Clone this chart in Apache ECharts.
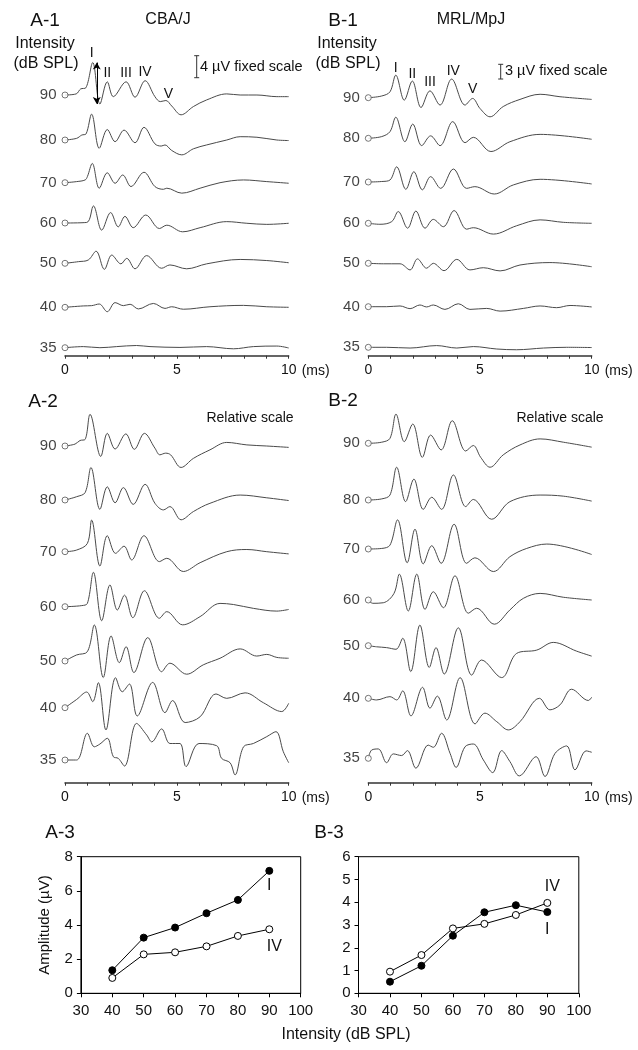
<!DOCTYPE html>
<html><head><meta charset="utf-8">
<script src="https://cdn.jsdelivr.net/npm/echarts@6/dist/echarts.min.js"></script>
<style>html,body{margin:0;padding:0;background:#fff}#c{width:638px;height:1050px}</style>
</head><body><div id="c"></div>
<script>
// ---------------- DATA ----------------
const INTENSITIES = ['90','80','70','60','50','40','35'];
const X_TICKS = [0,5,10];

// Panel A-1 (CBA/J, fixed scale, µV) : [time ms, amplitude µV]
const A1_90 = [[0,0],[0.5,0.2],[0.7,1.1],[0.93,1.3],[1.24,5.9],[1.56,-1.64],[1.89,2.4],[2.16,-0.3],[2.73,2.4],[3.13,-0.4],[3.58,2.6],[4.02,-0.3],[4.26,-1.2],[4.51,-1.0],[4.77,-2.0],[5.19,-3.6],[5.74,-2.1],[6.33,-0.9],[7.23,0.2],[7.83,0],[8.58,0],[9.47,-0.3],[10,-0.3]];
const A1_80 = [[0,0],[0.52,0.3],[0.75,0.9],[0.94,1.1],[1.19,4.7],[1.53,-1.5],[1.89,1.9],[2.24,-0.3],[2.64,1.8],[3.13,-0.5],[3.53,2.3],[4.02,-0.7],[4.3,-1.1],[4.47,-0.9],[4.77,-1.9],[5.22,-2.7],[5.74,-1.6],[6.33,-0.9],[7.23,0],[7.83,0.6],[8.58,0.5],[9.47,0],[10,-0.1]];
const A1_70 = [[0,0],[0.52,0.2],[0.9,0.5],[1.0,1.1],[1.22,3.5],[1.53,-1.0],[1.89,1.8],[2.24,-0.1],[2.58,1.4],[2.95,-0.7],[3.53,1.9],[4.02,-0.7],[4.40,-1.2],[4.55,-1.0],[5.22,-1.9],[6.04,-1.0],[6.93,0],[7.98,0.5],[9.02,0.2],[10,-0.1]];
const A1_60 = [[0,0],[0.97,0.1],[1.27,3.1],[1.64,-1.3],[2.04,1.9],[2.38,-0.7],[2.68,1.2],[3.05,-0.85],[3.61,1.45],[4.22,-1.0],[4.55,-0.4],[5.26,-1.6],[6.04,-0.85],[7.23,0.25],[8.13,-0.05],[9.02,-0.25],[10,-0.05]];
const A1_50 = [[0,0],[0.6,0.3],[1.04,0.6],[1.39,2.2],[1.76,-1.1],[2.09,1.5],[2.50,-0.1],[2.76,0.9],[3.13,-1.0],[3.65,1.4],[4.32,-0.9],[4.69,-0.3],[5.44,-1.0],[6.33,-0.1],[7.83,0.7],[9.02,0.5],[10,0.1]];
const A1_40 = [[0,0],[0.82,0.25],[1.19,0.3],[1.53,0.6],[1.89,-0.8],[2.24,0.85],[2.61,0.3],[2.91,0.55],[3.28,-0.3],[3.95,0.7],[4.47,-0.2],[4.77,0.1],[5.29,-0.35],[6.48,0.1],[7.98,0.35],[9.02,0.1],[10,0]];
const A1_35 = [[0,0],[0.82,0.2],[1.56,0],[2.31,0.2],[3.2,0.4],[3.8,0.2],[5.14,0.05],[6.33,0.2],[7.53,-0.2],[8.42,0.2],[9.47,0.3],[10,-0.05]];

// Panel B-1 (MRL/MpJ, fixed scale, µV)
const B1_90 = [[0,0],[0.6,0.35],[0.97,1.2],[1.23,4.6],[1.61,-0.5],[1.97,3.4],[2.36,-2.0],[2.76,1.4],[3.21,-1.5],[3.73,3.8],[4.33,-1.5],[4.67,-0.15],[5.0,-2.2],[5.45,-3.9],[6.04,-1.8],[6.79,-0.35],[7.69,0.7],[8.58,0.2],[10,-0.35]];
const B1_80 = [[0,0],[0.6,0.35],[0.97,1.35],[1.23,4.3],[1.64,-0.7],[1.99,2.9],[2.39,-1.5],[2.79,0.5],[3.21,-1.5],[3.78,3.4],[4.33,-0.9],[4.7,0.2],[5.49,-2.7],[6.34,-0.7],[7.69,0.8],[10,-0.2]];
const B1_70 = [[0,0],[0.6,0.1],[0.97,0.4],[1.27,3.1],[1.68,-1.5],[2.04,2.1],[2.42,-1.6],[2.79,1.1],[3.24,-1.3],[3.81,2.65],[4.4,-1.3],[4.77,-0.95],[5.64,-2.45],[6.49,-0.6],[7.69,0.55],[10,-0.4]];
const B1_60 = [[0,0],[0.52,-0.2],[1.05,0.35],[1.34,2.4],[1.76,-1.0],[2.13,2.5],[2.54,-1.0],[2.91,0.8],[3.36,-0.7],[3.84,2.6],[4.4,-1.2],[4.7,-0.9],[5.6,-2.2],[6.64,-0.5],[7.69,0.7],[8.73,0.2],[10,0]];
const B1_50 = [[0,0],[0.67,-0.1],[1.42,-0.1],[1.87,-1.35],[2.2,0.9],[2.61,-1.0],[2.91,0],[3.39,-1.5],[3.96,0.8],[4.55,-1.35],[5.15,-0.9],[5.9,-1.55],[6.79,-0.35],[8.13,0.15],[10,-0.7]];
const B1_40 = [[0,0],[0.82,0],[1.42,0.15],[1.87,-0.4],[2.31,0.35],[2.61,-0.05],[2.91,0.35],[3.43,-0.55],[4.03,0.6],[4.55,-0.55],[5.3,-0.35],[5.9,-0.9],[6.94,-0.35],[7.69,0.15],[8.43,-0.2],[9.03,0.25],[10,-0.05]];
const B1_35 = [[0,0],[0.82,0],[1.87,-0.15],[3.06,0.35],[3.96,-0.15],[4.7,0.15],[5.75,-0.35],[6.64,-0.5],[7.84,-0.15],[8.88,0],[10,-0.05]];

// Panel A-2 (CBA/J, relative scale, arbitrary units)
const A2_90 = [[0,0],[0.45,0.35],[0.67,1.0],[0.9,1.2],[1.12,5.75],[1.6,-1.9],[1.89,2.3],[2.24,-0.55],[2.72,2.2],[3.1,-0.6],[3.55,2.3],[4.02,-0.4],[4.24,-1.6],[4.5,-1.3],[4.72,-1.6],[5.19,-3.9],[5.74,-2.25],[6.48,-0.7],[7.23,0.65],[8.13,0.2],[9.02,0],[10,-0.25]];
const A2_80 = [[0,0],[0.52,0.6],[0.9,1.35],[1.16,5.9],[1.56,-1.7],[1.89,2.4],[2.24,-0.5],[2.61,2.25],[3.05,-0.8],[3.58,2.85],[4.02,-0.6],[4.40,-1.8],[4.69,-1.2],[5.19,-3.6],[5.74,-2.1],[6.48,-0.6],[7.83,0.9],[9.02,0.4],[10,-0.1]];
const A2_70 = [[0,0],[0.52,0.3],[1.0,1.5],[1.19,5.75],[1.56,-2.6],[1.89,2.9],[2.26,-0.3],[2.64,1.0],[2.98,-1.5],[3.53,2.9],[4.22,-1.8],[4.55,-1.2],[5.29,-3.6],[6.04,-2.0],[7.23,0],[8.13,0.4],[9.02,0],[10,-0.4]];
const A2_60 = [[0,0],[0.75,0.2],[1.0,0.6],[1.27,6.25],[1.64,-2.55],[2.01,3.95],[2.34,-0.6],[2.66,2.1],[3.03,-2.0],[3.55,2.9],[4.22,-2.1],[4.55,-0.9],[5.26,-3.3],[6.04,-1.8],[6.93,0.6],[7.53,0.4],[8.42,-0.3],[9.47,-0.8],[10,-0.5]];
const A2_50 = [[0,0],[0.52,1.1],[1.0,1.7],[1.31,6.55],[1.71,-3.0],[2.06,4.55],[2.43,-0.3],[2.73,2.6],[3.08,-2.1],[3.7,4.25],[4.32,-1.95],[4.69,-0.4],[5.44,-2.4],[6.18,-0.7],[6.93,0.5],[7.83,2.2],[8.57,0.9],[9.02,1.2],[9.47,0.65],[10,0.5]];
const A2_40 = [[0,0],[0.52,1.5],[0.97,2.85],[1.24,1.1],[1.49,4.55],[1.83,-4.05],[2.26,5.45],[2.56,2.9],[2.88,4.3],[3.23,-1.5],[3.92,4.6],[4.47,-0.9],[4.81,1.3],[5.37,-2.7],[6.04,-1.65],[6.75,2.5],[7.23,1.7],[8.05,2.7],[8.87,0.9],[9.69,-0.7],[10,0.8]];
const A2_35 = [[0,0],[0.52,0],[1.0,4.85],[1.31,2.4],[1.56,2.9],[1.89,3.95],[2.16,0.6],[2.38,0.3],[2.66,-1.1],[3.2,6.65],[3.65,4.55],[3.88,3.3],[4.32,5.65],[4.69,3.0],[5.14,3.0],[5.41,-1.2],[5.99,3.0],[6.78,2.6],[7.0,0.3],[7.38,-0.5],[7.6,-2.7],[7.98,2.4],[8.42,3.0],[9.02,4.25],[9.43,5.15],[9.76,1.5],[10,-0.5]];

// Panel B-2 (MRL/MpJ, relative scale, arbitrary units)
const B2_90 = [[0,0],[0.6,0.2],[0.97,0.9],[1.24,5.3],[1.61,0.3],[1.99,3.5],[2.42,-2.55],[2.79,1.5],[3.26,-1.2],[3.76,4.1],[4.36,-1.4],[4.7,-0.4],[5.03,-2.55],[5.45,-4.35],[6.04,-2.1],[6.79,-0.3],[7.69,0.8],[8.73,0.2],[10,-0.7]];
const B2_80 = [[0,0],[0.6,0.2],[0.97,0.9],[1.27,5.95],[1.67,-0.3],[2.04,3.8],[2.46,-1.7],[2.84,0.5],[3.28,-1.7],[3.81,4.55],[4.36,-1.2],[4.7,0.1],[5.52,-3.5],[6.34,-0.3],[7.69,0.9],[8.73,0.7],[10,-0.2]];
const B2_70 = [[0,0],[0.6,0.1],[0.97,0.7],[1.31,5.3],[1.74,-2.5],[2.09,3.6],[2.46,-2.7],[2.84,0.6],[3.26,-2.6],[3.84,4.5],[4.4,-2.6],[4.77,-1.6],[5.6,-4.1],[6.34,-1.4],[7.09,0.1],[7.99,0.9],[10,-1.0]];
const B2_60 = [[0,0],[0.2,-0.6],[0.67,-0.5],[1.15,1.2],[1.39,4.7],[1.79,-2.0],[2.17,4.7],[2.54,-1.7],[2.91,1.5],[3.36,-1.4],[3.88,4.4],[4.48,-2.4],[4.85,-1.5],[5.64,-4.4],[6.34,-1.8],[6.94,0.3],[7.69,1.2],[8.73,0.5],[10,0]];
const B2_50 = [[0,0],[0.37,-0.2],[0.82,-0.35],[1.24,-0.65],[1.54,1.35],[1.9,-4.7],[2.31,3.75],[2.73,-3.95],[3.03,-0.35],[3.4,-5.15],[4.03,3.25],[4.63,-5.35],[5.07,-2.6],[5.97,-5.8],[6.64,-1.4],[7.54,-0.8],[8.28,0.6],[9.33,-1.0],[10,-1.9]];
const B2_40 = [[0,0],[0.37,-0.3],[0.97,0.3],[1.27,-0.3],[1.54,1.35],[1.91,-3.2],[2.43,2.0],[2.76,-1.8],[3.09,0.4],[3.51,-3.95],[4.11,3.75],[4.78,-4.65],[5.22,-2.7],[5.75,-4.25],[6.27,-5.75],[6.79,-4.25],[7.66,0],[8.13,-2.1],[8.58,-1.2],[9.1,1.65],[9.85,-0.4],[10,0.2]];
const B2_35 = [[0,0],[0.15,1.5],[0.45,1.7],[0.82,-0.8],[1.12,0.8],[1.49,0.5],[1.75,1.4],[2.13,-1.8],[2.68,2.4],[2.91,2.0],[3.28,4.55],[3.66,0.9],[3.93,-1.65],[4.33,2.1],[4.7,2.6],[5.15,-0.3],[5.57,-2.6],[5.97,1.4],[6.34,-0.6],[6.76,-3.2],[7.51,0.3],[7.91,-3.3],[8.36,0.9],[8.88,2.25],[9.25,-2.1],[9.75,1.35],[10,1.1]];

// Panels A-3 / B-3 : amplitude (µV) vs intensity (dB SPL)
const LEVELS = [40,50,60,70,80,90];
const A3_I  = [1.35,3.26,3.85,4.69,5.47,7.17];
const A3_IV = [0.9,2.28,2.4,2.75,3.36,3.75];
const B3_I  = [0.51,1.21,2.53,3.56,3.87,3.57];
const B3_IV = [0.95,1.68,2.85,3.05,3.44,3.97];

// ---------------- LAYOUT ----------------
const FONT = '"Liberation Sans", Arial, Helvetica, sans-serif';
const TXT = '#111';
const TRACE = '#4a4a4a';
const W = 638, H = 1050;

const panels = [
  {left:65,   right:288.7, axisY:355.7, top:30,  ppu:5.5, bases:[95,140,182.7,223,263.3,307.3,347.7], traces:[A1_90,A1_80,A1_70,A1_60,A1_50,A1_40,A1_35]},
  {left:368.3,right:591.7, axisY:355.7, top:30,  ppu:4.9, bases:[97.7,138.3,182,223.3,263.3,306.7,347.3], traces:[B1_90,B1_80,B1_70,B1_60,B1_50,B1_40,B1_35]},
  {left:65,   right:288.7, axisY:782.7, top:405, ppu:5.5, bases:[446,500,551.7,606.7,661,707.7,760], traces:[A2_90,A2_80,A2_70,A2_60,A2_50,A2_40,A2_35]},
  {left:368.3,right:591.7, axisY:782.7, top:405, ppu:5.5, bases:[443.3,500,549,600,645.7,698.3,758.3], traces:[B2_90,B2_80,B2_70,B2_60,B2_50,B2_40,B2_35]}
];

const grids = [], xAxes = [], yAxes = [], series = [];

panels.forEach((p, pi) => {
  const h = p.axisY - p.top;
  grids.push({left:p.left, top:p.top, width:p.right - p.left, height:h});
  xAxes.push({
    type:'value', gridIndex:pi, min:0, max:10, interval:1,
    axisLine:{show:true, lineStyle:{color:'#333', width:1.5}},
    axisTick:{show:true, length:3, lineStyle:{color:'#333', width:1}},
    splitLine:{show:false},
    axisLabel:{margin:7, fontFamily:FONT, fontSize:14, color:TXT,
      formatter:v => X_TICKS.indexOf(v) >= 0 ? String(v) : ''},
    name:'(ms)', nameLocation:'end', nameGap:13,
    nameTextStyle:{fontFamily:FONT, fontSize:14, color:TXT, verticalAlign:'top', padding:[8,0,0,0]}
  });
  yAxes.push({type:'value', gridIndex:pi, min:0, max:h / p.ppu, show:false});
  const offs = p.bases.map(b => (p.axisY - b) / p.ppu);
  p.traces.forEach((tr, k) => {
    const s = {
      type:'line', xAxisIndex:pi, yAxisIndex:pi, showSymbol:false, smooth:0.35,
      clip:false, silent:true, animation:false,
      lineStyle:{color:TRACE, width:1},
      data: tr.map(d => [d[0], d[1] + offs[k]])
    };
    if (pi === 0 && k === 0) {
      const early = tr.filter(d => d[0] < 2);
      const pk = Math.max(...early.map(d => d[1]));
      const tg = Math.min(...early.map(d => d[1]));
      s.markLine = {
        silent:true, animation:false, symbol:['arrow','arrow'], symbolSize:[6,7],
        label:{show:false}, lineStyle:{color:'#000', width:1, type:'solid'},
        data:[[{coord:[1.42, pk + offs[k]]}, {coord:[1.42, tg + offs[k]]}]]
      };
    }
    series.push(s);
  });
  series.push({
    type:'scatter', xAxisIndex:pi, yAxisIndex:pi, symbol:'circle', symbolSize:6,
    clip:false, silent:true, animation:false, z:5,
    itemStyle:{color:'#fff', borderColor:'#555', borderWidth:1},
    label:{show:true, position:'left', distance:5, fontFamily:FONT, fontSize:15, color:TXT,
      formatter:pp => pp.value[2]},
    data: INTENSITIES.map((lab, k) => [0, offs[k], lab])
  });
});

// amplitude panels
const ampPanels = [
  {left:80.9, right:300.7, top:856.7, bottom:993.3, max:8, interval:2, I:A3_I, IV:A3_IV,
   labI:{position:'bottom', distance:3, offset:[0,0]}, labIV:{position:'bottom', distance:5, offset:[5,0]}},
  {left:358.5, right:578.8, top:856.7, bottom:993.3, max:6, interval:1, I:B3_I, IV:B3_IV,
   labI:{position:'bottom', distance:6, offset:[0,0]}, labIV:{position:'top', distance:4, offset:[5,0]}}
];
ampPanels.forEach((a, ai) => {
  const gi = 4 + ai;
  grids.push({left:a.left, top:a.top, width:a.right - a.left, height:a.bottom - a.top,
    show:true, borderColor:'#000', borderWidth:1, backgroundColor:'transparent'});
  xAxes.push({type:'value', gridIndex:gi, min:30, max:100, interval:10,
    axisLine:{show:true, lineStyle:{color:'#000', width:1}},
    axisTick:{show:true, length:4, lineStyle:{color:'#000'}},
    splitLine:{show:false},
    axisLabel:{margin:10, fontFamily:FONT, fontSize:15, color:TXT}});
  yAxes.push({type:'value', gridIndex:gi, min:0, max:a.max, interval:a.interval,
    axisLine:{show:true, lineStyle:{color:'#000', width:1}},
    axisTick:{show:true, length:4, lineStyle:{color:'#000'}},
    splitLine:{show:false},
    axisLabel:{margin:8, fontFamily:FONT, fontSize:15, color:TXT},
    name: ai === 0 ? 'Amplitude (\u00b5V)' : '', nameLocation:'middle', nameGap:29, nameRotate:90,
    nameTextStyle:{fontFamily:FONT, fontSize:15, color:TXT}});
  const mk = (vals, lab, cfg) => vals.map((v, i) => {
    const item = {value:[LEVELS[i], v]};
    if (i === vals.length - 1) item.label = Object.assign({show:true, formatter:lab, fontFamily:FONT, fontSize:16, color:TXT}, cfg);
    return item;
  });
  series.push({type:'line', xAxisIndex:gi, yAxisIndex:gi, symbol:'circle', symbolSize:7,
    animation:false, silent:true, z:3,
    lineStyle:{color:'#000', width:1}, itemStyle:{color:'#000', borderColor:'#000', borderWidth:1},
    data: mk(a.I, 'I', a.labI)});
  series.push({type:'line', xAxisIndex:gi, yAxisIndex:gi, symbol:'circle', symbolSize:7,
    animation:false, silent:true, z:4,
    lineStyle:{color:'#000', width:1}, itemStyle:{color:'#fff', borderColor:'#000', borderWidth:1},
    data: mk(a.IV, 'IV', a.labIV)});
});

// ---------------- TEXT / ANNOTATIONS ----------------
function txt(text, x, y, size, align) {
  return {type:'text', x:x, y:y, silent:true,
    style:{text:text, fontFamily:FONT, fontSize:size, fill:TXT,
      textAlign:align || 'center', textVerticalAlign:'middle', align:align || 'center', verticalAlign:'middle'}};
}
function scaleBar(x, yTop, uv, ppu) {
  const len = uv * ppu;
  const st = {stroke:'#333', lineWidth:1};
  return [
    {type:'line', silent:true, shape:{x1:x, y1:yTop, x2:x, y2:yTop + len}, style:st},
    {type:'line', silent:true, shape:{x1:x - 2.5, y1:yTop, x2:x + 2.5, y2:yTop}, style:st},
    {type:'line', silent:true, shape:{x1:x - 2.5, y1:yTop + len, x2:x + 2.5, y2:yTop + len}, style:st}
  ];
}
const graphics = [
  txt('A-1', 45, 21, 19), txt('CBA/J', 168, 20, 16),
  txt('Intensity', 45, 44, 16), txt('(dB SPL)', 46, 64, 16),
  txt('I', 91.7, 53, 14), txt('II', 107.3, 72.7, 14), txt('III', 126, 72.7, 14), txt('IV', 145, 71.7, 14), txt('V', 168.3, 94.3, 14),
  txt('4 \u00b5V fixed scale', 200, 66.7, 14.5, 'left'),
  txt('B-1', 343, 21, 19), txt('MRL/MpJ', 471, 20, 16),
  txt('Intensity', 347, 44, 16), txt('(dB SPL)', 348, 64, 16),
  txt('I', 395.7, 67.7, 14), txt('II', 412.3, 74, 14), txt('III', 430, 81.7, 14), txt('IV', 453.3, 71, 14), txt('V', 472.7, 89.3, 14),
  txt('3 \u00b5V fixed scale', 505, 70.7, 14.5, 'left'),
  txt('A-2', 43, 401.7, 19), txt('Relative scale', 250, 418.3, 14),
  txt('B-2', 343, 401, 19), txt('Relative scale', 560, 418.3, 14),
  txt('A-3', 60, 833, 19), txt('B-3', 329, 833, 19),
  txt('Intensity (dB SPL)', 346, 1035, 16)
].concat(scaleBar(196.7, 55.7, 4, panels[0].ppu), scaleBar(500.7, 64.3, 3, panels[1].ppu));

const chart = echarts.init(document.getElementById('c'), null, {renderer:'canvas', width:W, height:H});
chart.setOption({
  animation:false, backgroundColor:'#fff',
  grid:grids, xAxis:xAxes, yAxis:yAxes, series:series, graphic:graphics
});
</script></body></html>
